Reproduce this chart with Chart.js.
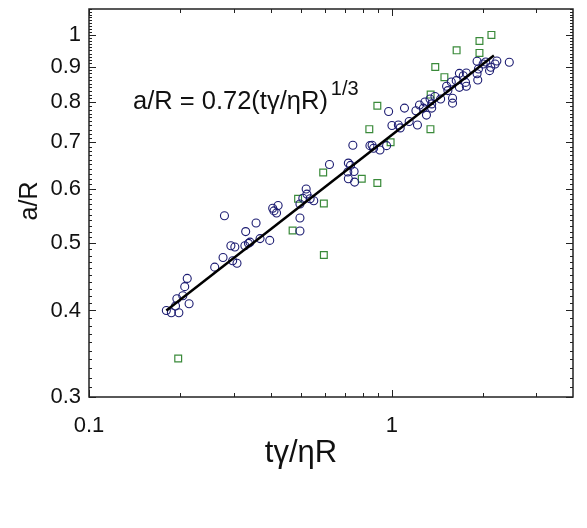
<!DOCTYPE html>
<html>
<head>
<meta charset="utf-8">
<script src="https://cdn.jsdelivr.net/npm/chart.js@4/dist/chart.umd.min.js"></script>
<style>
  html, body { margin: 0; padding: 0; background: #fff; }
  #c { display: block; }
</style>
</head>
<body>
<canvas id="c" width="587" height="528"></canvas>
<script>
// circles (main data set)
const circleX = [0.18, 0.187, 0.198, 0.193, 0.195, 0.204, 0.214, 0.207, 0.211, 0.28,
  0.26, 0.277, 0.294, 0.303, 0.298, 0.308, 0.329, 0.327, 0.336, 0.34,
  0.356, 0.367, 0.395, 0.404, 0.421, 0.416, 0.408, 0.497, 0.497, 0.497,
  0.521, 0.508, 0.537, 0.552, 0.524, 0.622, 0.718, 0.73, 0.715, 0.75,
  0.718, 0.753, 0.743, 0.846, 0.86, 0.87, 0.913, 0.96, 0.975, 1.1,
  1.0, 1.05, 1.065, 1.14, 1.214, 1.2, 1.233, 1.27, 1.285, 1.3,
  1.336, 1.353, 1.387, 1.448, 1.353, 1.515, 1.53, 1.57, 1.585, 1.585,
  1.63, 1.67, 1.72, 1.76, 1.75, 1.76, 1.91, 2.0, 1.93, 1.91,
  1.92, 2.12, 2.1, 2.19, 2.22, 2.44, 2.04, 1.67];
const circleY = [0.40, 0.397, 0.397, 0.406, 0.416, 0.42, 0.409, 0.433, 0.445, 0.548,
  0.462, 0.477, 0.496, 0.494, 0.472, 0.468, 0.52, 0.496, 0.5, 0.502,
  0.535, 0.508, 0.505, 0.562, 0.567, 0.553, 0.557, 0.544, 0.521, 0.57,
  0.599, 0.581, 0.58, 0.576, 0.589, 0.65, 0.653, 0.648, 0.634, 0.635,
  0.62, 0.613, 0.693, 0.692, 0.693, 0.686, 0.682, 0.692, 0.775, 0.784,
  0.74, 0.741, 0.734, 0.75, 0.741, 0.777, 0.792, 0.784, 0.8, 0.766,
  0.808, 0.784, 0.815, 0.808, 0.795, 0.843, 0.831, 0.855, 0.81, 0.797,
  0.859, 0.88, 0.873, 0.881, 0.854, 0.843, 0.916, 0.908, 0.893, 0.879,
  0.861, 0.898, 0.888, 0.908, 0.917, 0.913, 0.914, 0.84];

// squares (second data set)
const squareX = [0.197, 0.49, 0.47, 0.596, 0.596, 0.593, 0.795, 0.895, 0.842, 0.895,
  0.99, 1.34, 1.342, 1.39, 1.49, 1.635, 1.945, 1.945, 2.13];
const squareY = [0.341, 0.58, 0.522, 0.571, 0.481, 0.633, 0.62, 0.611, 0.731, 0.79,
  0.70, 0.731, 0.82, 0.899, 0.869, 0.95, 0.98, 0.942, 1.0];

// fit a/R = 0.72 (t gamma / eta R)^(1/3), end points
const fitX = [0.18, 2.17];
const fitY = [0.40, 0.934];

const xTickLabels = [0.1, 1];
const yTickLabels = [0.3, 0.4, 0.5, 0.6, 0.7, 0.8, 0.9, 1];
const xMinorTicks = [0.2, 0.3, 0.4, 0.5, 0.6, 0.7, 0.8, 0.9, 2, 3];

const FONT = "'Liberation Sans', Arial, sans-serif";

const toPts = (xs, ys) => xs.map((v, i) => ({ x: v, y: ys[i] }));

// inside ticks on all four sides, frame, titles and the formula
const frameTicks = {
  id: 'frameTicks',
  afterDatasetsDraw(chart) {
    const { ctx, chartArea: a, scales: { x, y } } = chart;
    ctx.save();
    ctx.strokeStyle = '#222';
    ctx.lineWidth = 1;
    ctx.beginPath();
    for (let k = 30; k <= 109; k++) {
      const py = Math.round(y.getPixelForValue(k / 100)) + 0.5;
      const len = k % 10 === 0 ? 7 : 3;
      ctx.moveTo(a.left, py); ctx.lineTo(a.left + len, py);
      ctx.moveTo(a.right, py); ctx.lineTo(a.right - len, py);
    }
    xMinorTicks.concat(xTickLabels).forEach(v => {
      const px = Math.round(x.getPixelForValue(v)) + 0.5;
      const len = xTickLabels.includes(v) ? 7 : 4;
      ctx.moveTo(px, a.bottom); ctx.lineTo(px, a.bottom - len);
      ctx.moveTo(px, a.top); ctx.lineTo(px, a.top + len);
    });
    ctx.stroke();
    ctx.lineWidth = 1.5;
    ctx.strokeRect(a.left, a.top, a.right - a.left, a.bottom - a.top);

    ctx.fillStyle = '#111';
    // formula
    ctx.textAlign = 'left';
    ctx.textBaseline = 'alphabetic';
    ctx.font = '25.5px ' + FONT;
    const main = 'a/R = 0.72(tγ/ηR)';
    ctx.fillText(main, 133, 109);
    const w = ctx.measureText(main).width;
    ctx.font = '20px ' + FONT;
    ctx.fillText('1/3', 133 + w + 3, 95);

    // axis titles
    ctx.font = '31px ' + FONT;
    ctx.textAlign = 'center';
    ctx.fillText('tγ/ηR', 301, 462);
    ctx.translate(37, 201);
    ctx.rotate(-Math.PI / 2);
    ctx.font = '25px ' + FONT;
    ctx.fillText('a/R', 0, 0);
    ctx.restore();
  }
};

new Chart(document.getElementById('c'), {
  type: 'scatter',
  data: {
    datasets: [
      {
        data: toPts(fitX, fitY),
        showLine: true,
        borderColor: '#000',
        borderWidth: 2.5,
        pointRadius: 0
      },
      {
        data: toPts(circleX, circleY),
        pointStyle: 'circle',
        pointRadius: 4,
        borderWidth: 1.1,
        borderColor: '#1c1c72',
        backgroundColor: 'rgba(0,0,0,0)'
      },
      {
        data: toPts(squareX, squareY),
        pointStyle: 'rect',
        pointRadius: 4.8,
        borderWidth: 1.2,
        borderColor: '#3a8a3a',
        backgroundColor: 'rgba(0,0,0,0)'
      }
    ]
  },
  options: {
    responsive: false,
    animation: false,
    devicePixelRatio: 1,
    layout: { padding: { left: 0, top: 9, right: 14, bottom: 0 } },
    plugins: { legend: { display: false }, tooltip: { enabled: false } },
    scales: {
      x: {
        type: 'logarithmic',
        min: 0.1,
        max: 3.96,
        grid: { display: false, drawTicks: false },
        border: { display: false },
        afterBuildTicks: s => { s.ticks = xTickLabels.map(v => ({ value: v })); },
        afterFit: s => { s.height = 131; s.paddingLeft = 0; s.paddingRight = 0; },
        ticks: {
          autoSkip: false,
          maxRotation: 0,
          padding: 16,
          color: '#111',
          font: { family: FONT, size: 22 },
          callback: v => String(v)
        }
      },
      y: {
        type: 'logarithmic',
        min: 0.3,
        max: 1.09,
        grid: { display: false, drawTicks: false },
        border: { display: false },
        afterBuildTicks: s => { s.ticks = yTickLabels.map(v => ({ value: v })); },
        afterFit: s => { s.width = 89; s.paddingTop = 0; s.paddingBottom = 0; },
        ticks: {
          autoSkip: false,
          padding: 8,
          color: '#111',
          font: { family: FONT, size: 22 },
          callback: v => String(v)
        }
      }
    }
  },
  plugins: [frameTicks]
});
</script>
</body>
</html>
